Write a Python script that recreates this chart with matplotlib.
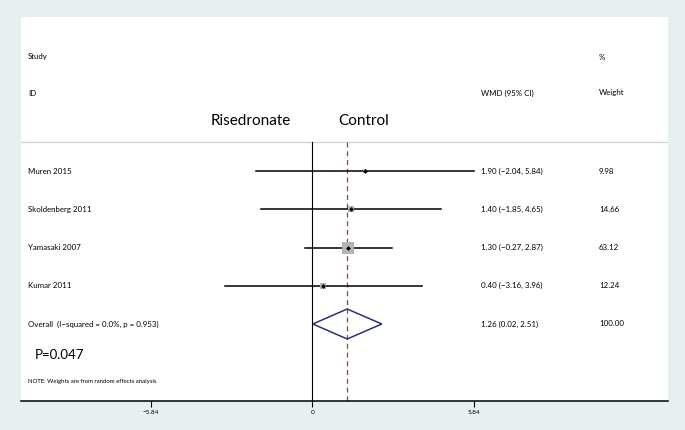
import matplotlib
matplotlib.use("Agg")
import matplotlib.pyplot as plt
from matplotlib.patches import Polygon

plt.rcParams['font.family'] = ['Lato', 'DejaVu Sans']

# ---- data ----
studies = ["Muren 2015", "Skoldenberg 2011", "Yamasaki 2007", "Kumar 2011"]
wmd = [1.90, 1.40, 1.30, 0.40]
ci_low = [-2.04, -1.85, -0.27, -3.16]
ci_high = [5.84, 4.65, 2.87, 3.96]
weights = [9.98, 14.66, 63.12, 12.24]
overall_label = "Overall  (I\u2212squared = 0.0%, p = 0.953)"
overall_est = 1.26
overall_low = 0.02
overall_high = 2.51
overall_weight = 100.00
xticks = [-5.84, 0, 5.84]
xtick_labels = ["\u22125.84", "0", "5.84"]

def fmt(v):
    return f"{v:.2f}".replace("-", "\u2212")

# ---- figure ----
W, H = 685, 430
fig = plt.figure(figsize=(W / 100, H / 100), dpi=100, facecolor="#e7eff1")
ax = fig.add_axes([21 / W, (H - 401) / H, (668 - 21) / W, (401 - 17) / H])
ax.set_facecolor("white")

px_per_unit = 27.68
x0_px = 312.3
xmin = (21 - x0_px) / px_per_unit
xmax = (668 - x0_px) / px_per_unit
row_px = 38.25
row0_px = 171
def ypx(p):
    return (p - row0_px) / row_px
ymin = ypx(17)
ymax = ypx(401)
ax.set_xlim(xmin, xmax)
ax.set_ylim(ymax, ymin)

for s in ["top", "left", "right"]:
    ax.spines[s].set_visible(False)
ax.spines["bottom"].set_linewidth(1.1)
ax.set_yticks([])
ax.set_xticks(xticks)
ax.set_xticklabels(xtick_labels, fontsize=4.6)
ax.tick_params(axis="x", direction="out", length=4, width=0.8, pad=2.5)

def xpx(p):
    return (p - x0_px) / px_per_unit

# top separator line
ax.axhline(ypx(142), color="#d0d0d0", lw=0.9)

# zero line and overall dashed line
ax.plot([0, 0], [ypx(142), ymax], color="black", lw=0.8, zorder=2)
ax.plot([overall_est, overall_est], [ypx(142), ymax], color="#b03a3a",
        lw=0.9, ls=(0, (4, 3)), zorder=2)

hfs = 5.7
# headers
ax.text(xpx(28), ypx(57), "Study", fontsize=hfs, va="center", ha="left")
ax.text(xpx(28), ypx(93), "ID", fontsize=hfs, va="center", ha="left")
ax.text(xpx(481), ypx(93), "WMD (95% CI)", fontsize=hfs, va="center", ha="left")
ax.text(xpx(599), ypx(57), "%", fontsize=hfs, va="center", ha="left")
ax.text(xpx(599), ypx(93), "Weight", fontsize=hfs, va="center", ha="left")
ax.text(xpx(251), ypx(121), "Risedronate", fontsize=11, va="center", ha="center")
ax.text(xpx(364), ypx(121), "Control", fontsize=11, va="center", ha="center")

# studies
for i, (name, m, lo, hi, w) in enumerate(zip(studies, wmd, ci_low, ci_high, weights)):
    ax.text(xpx(28), i, name, fontsize=hfs, va="center", ha="left")
    ax.plot([lo, hi], [i, i], color="black", lw=1.1, zorder=3)
    ax.scatter([m], [i], marker="s", s=1.18 * w, color="#b4b4b4", zorder=4,
               linewidths=0)
    ax.scatter([m], [i], marker="D", s=6, color="black", zorder=5, linewidths=0)
    ax.text(xpx(481), i, f"{fmt(m)} ({fmt(lo)}, {fmt(hi)})", fontsize=hfs,
            va="center", ha="left")
    ax.text(xpx(599), i, f"{w:.2f}", fontsize=hfs, va="center", ha="left")

# overall
yo = len(studies)
dh = 15 / row_px
diamond = Polygon([[overall_low, yo], [overall_est, yo - dh],
                   [overall_high, yo], [overall_est, yo + dh]],
                  closed=True, fill=False, edgecolor="#2b3275", lw=1.1, zorder=4)
ax.add_patch(diamond)
ax.text(xpx(28), yo, overall_label, fontsize=hfs, va="center", ha="left")
ax.text(xpx(481), yo, f"{fmt(overall_est)} ({fmt(overall_low)}, {fmt(overall_high)})",
        fontsize=hfs, va="center", ha="left")
ax.text(xpx(599), yo, f"{overall_weight:.2f}", fontsize=hfs, va="center", ha="left")

ax.text(xpx(35), ypx(355), "P=0.047", fontsize=9.5, va="center", ha="left")
ax.text(xpx(28), ypx(381), "NOTE: Weights are from random effects analysis",
        fontsize=4.3, va="center", ha="left")

fig.savefig("out.png", dpi=100, facecolor=fig.get_facecolor())
